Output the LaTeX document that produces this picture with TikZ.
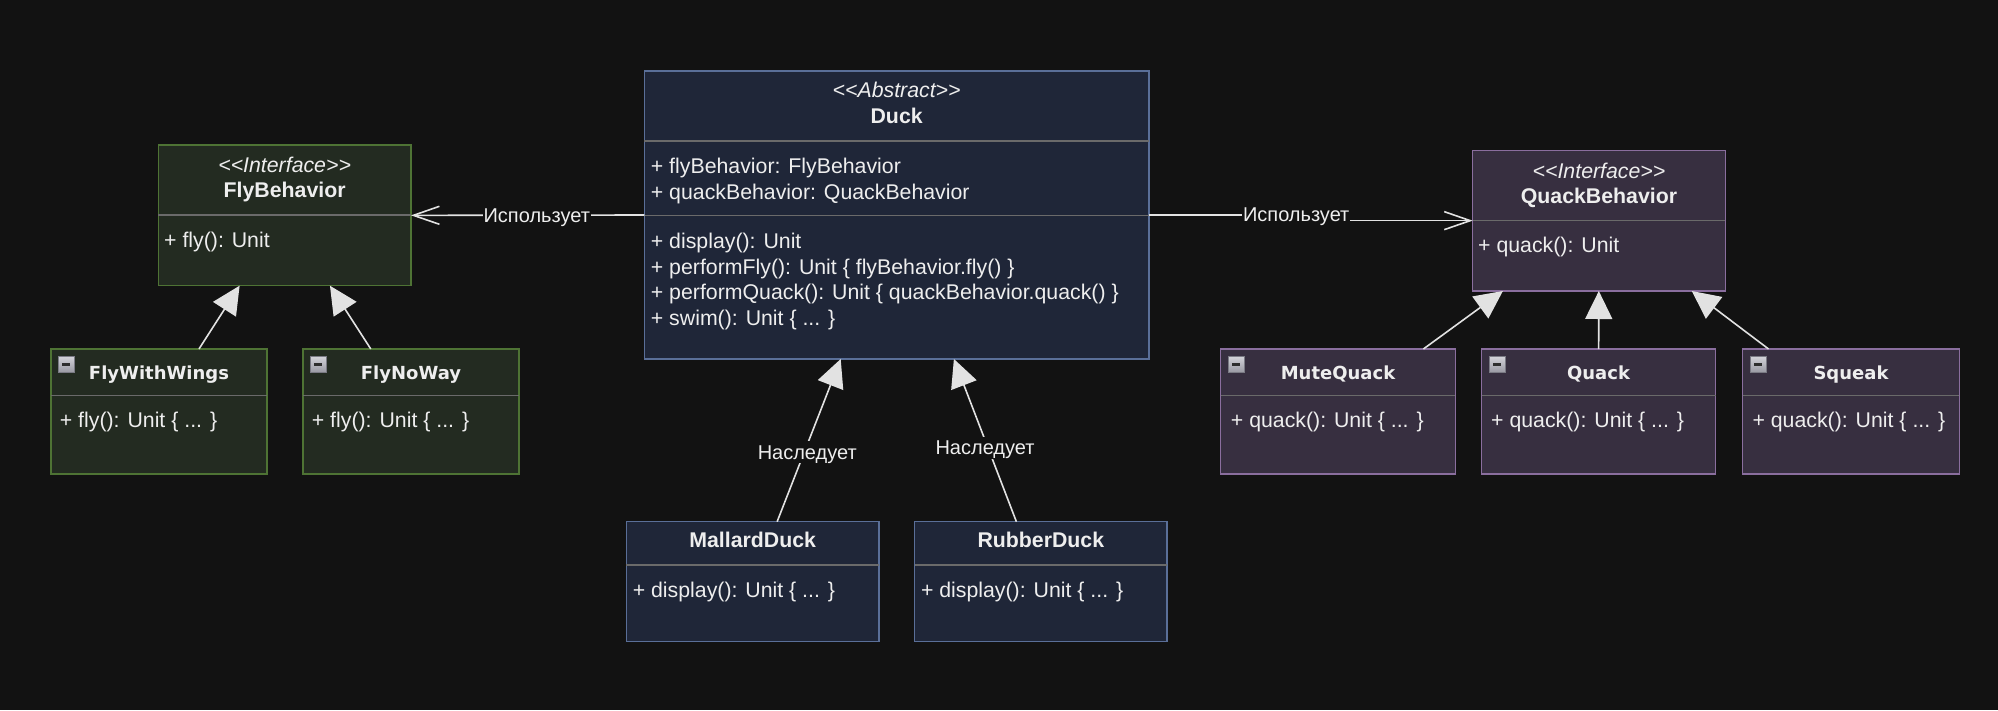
\documentclass[tikz,border=0pt]{standalone}
\usepackage{fontspec}
\newfontfamily\lsans{Liberation Sans}
\newfontfamily\dvs{DejaVu Sans}
\usetikzlibrary{arrows.meta}
\definecolor{bg}{HTML}{121212}
\definecolor{txtc}{HTML}{EEEEEE}
\definecolor{edgec}{HTML}{E2E2E2}
\definecolor{sepc}{HTML}{6A6A6A}
\definecolor{flyfill}{HTML}{232B21}
\definecolor{flydraw}{HTML}{4E7334}
\definecolor{duckfill}{HTML}{1F2638}
\definecolor{duckdraw}{HTML}{5A6F98}
\definecolor{qfill}{HTML}{372F40}
\definecolor{qdraw}{HTML}{8A6E9E}
\definecolor{icont}{HTML}{D4D4DA}
\definecolor{iconbot}{HTML}{9A9AA4}
\definecolor{iconb}{HTML}{7A7A84}
\definecolor{icond}{HTML}{2E2E2E}
\newcommand\mkicon[2]{%
  \draw[draw=iconb, line width=0.8pt, top color=icont, bottom color=iconbot] (#1,#2) rectangle ++(16,16);
  \fill[icond] (#1+4,#2+6.5) rectangle ++(8,3);}
\begin{document}
\begin{tikzpicture}[x=1pt,y=-1pt,
  box/.style={draw, line width=1.5pt, inner sep=0pt, outer sep=0pt, rectangle},
  flybox/.style={box, fill=flyfill, draw=flydraw},
  duckbox/.style={box, fill=duckfill, draw=duckdraw},
  qbox/.style={box, fill=qfill, draw=qdraw},
  sep/.style={draw=sepc, line width=1.5pt},
  mt/.style={anchor=west, inner sep=0pt, text=txtc, font=\lsans\fontsize{21.3}{25.6}\selectfont, text height=15.25pt, text depth=0pt},
  tt/.style={anchor=center, inner sep=0pt, text=txtc, font=\lsans\bfseries\fontsize{21.3}{25.6}\selectfont, text height=15.25pt, text depth=0pt},
  st/.style={anchor=center, inner sep=0pt, text=txtc, font=\lsans\itshape\fontsize{21.3}{25.6}\selectfont, text height=15.25pt, text depth=0pt},
  sub/.style={anchor=center, inner sep=0pt, text=txtc, font=\dvs\bfseries\fontsize{18}{22}\selectfont, text height=13.1pt, text depth=0pt},
  lbl/.style={fill=bg, text=txtc, inner xsep=1pt, inner ysep=4pt, font=\lsans\fontsize{20}{24}\selectfont, text height=14.3pt, text depth=0pt},
  inh/.style={draw=edgec, line width=1.6pt, -{Triangle[length=28pt,width=27pt,fill=edgec]}},
  uses/.style={draw=edgec, line width=1.6pt, -{Straight Barb[length=26pt,width=18pt]}}
]
\fill[bg] (0,0) rectangle (1998,710);
\useasboundingbox (0,0) rectangle (1998,710);

% ---------- boxes ----------
\node[flybox, minimum width=252.7pt, minimum height=140.7pt] (fb) at (284.65,215.35) {};
\node[flybox, minimum width=216pt, minimum height=125pt] (fww) at (159,411.5) {};
\node[flybox, minimum width=216pt, minimum height=125pt] (fnw) at (411,411.5) {};
\node[duckbox, minimum width=504.7pt, minimum height=288pt] (duck) at (896.65,215) {};
\node[duckbox, minimum width=252.5pt, minimum height=120pt] (mallard) at (752.65,581.7) {};
\node[duckbox, minimum width=252.5pt, minimum height=120pt] (rubber) at (1040.85,581.7) {};
\node[qbox, minimum width=252.6pt, minimum height=140.7pt] (qb) at (1599,220.65) {};
\node[qbox, minimum width=234.6pt, minimum height=125pt] (mq) at (1338,411.5) {};
\node[qbox, minimum width=234pt, minimum height=125pt] (qk) at (1598.5,411.5) {};
\node[qbox, minimum width=216.6pt, minimum height=125pt] (sq) at (1851,411.5) {};

% ---------- separators ----------
\draw[sep] (fb.west |- 0,215) -- (fb.east |- 0,215);
\draw[sep] (fww.west |- 0,395.5) -- (fww.east |- 0,395.5);
\draw[sep] (fnw.west |- 0,395.5) -- (fnw.east |- 0,395.5);
\draw[sep] (duck.west |- 0,141) -- (duck.east |- 0,141);
\draw[sep] (duck.west |- 0,215.7) -- (duck.east |- 0,215.7);
\draw[sep] (mallard.west |- 0,565) -- (mallard.east |- 0,565);
\draw[sep] (rubber.west |- 0,565) -- (rubber.east |- 0,565);
\draw[sep] (qb.west |- 0,220.3) -- (qb.east |- 0,220.3);
\draw[sep] (mq.west |- 0,395.5) -- (mq.east |- 0,395.5);
\draw[sep] (qk.west |- 0,395.5) -- (qk.east |- 0,395.5);
\draw[sep] (sq.west |- 0,395.5) -- (sq.east |- 0,395.5);

% ---------- icons ----------
\mkicon{58}{356}
\mkicon{310}{356}
\mkicon{1228}{356}
\mkicon{1489}{356}
\mkicon{1750}{356}

% ---------- texts ----------
\node[st] (fbst) at (284.65,165) {<<Interface>>};
\node[tt] (fbt) at (284.65,190) {FlyBehavior};
\node[mt] (fbm) at (164,239.5) {+ fly(): Unit};

\node[sub] (fwwt) at (159,372.5) {FlyWithWings};
\node[mt] (fwwm) at (59.7,419.5) {+ fly(): Unit \{ ... \}};
\node[sub] (fnwt) at (411,372.5) {FlyNoWay};
\node[mt] (fnwm) at (311.7,419.5) {+ fly(): Unit \{ ... \}};

\node[st] (dst) at (896.65,90) {<<Abstract>>};
\node[tt] (dt) at (896.65,116.2) {Duck};
\node[mt] (da1) at (650.7,166.2) {+ flyBehavior: FlyBehavior};
\node[mt] (da2) at (650.7,191.8) {+ quackBehavior: QuackBehavior};
\node[mt] (dm1) at (650.7,240.8) {+ display(): Unit};
\node[mt] (dm2) at (650.7,266.4) {+ performFly(): Unit \{ flyBehavior.fly() \}};
\node[mt] (dm3) at (650.7,292) {+ performQuack(): Unit \{ quackBehavior.quack() \}};
\node[mt] (dm4) at (650.7,317.6) {+ swim(): Unit \{ ... \}};

\node[tt] (mdt) at (752.65,540) {MallardDuck};
\node[mt] (mdm) at (632.6,589.8) {+ display(): Unit \{ ... \}};
\node[tt] (rdt) at (1040.85,540) {RubberDuck};
\node[mt] (rdm) at (920.8,589.8) {+ display(): Unit \{ ... \}};

\node[st] (qbst) at (1599,170.8) {<<Interface>>};
\node[tt] (qbt) at (1599,195.8) {QuackBehavior};
\node[mt] (qbm) at (1478,245) {+ quack(): Unit};

\node[sub] (mqt) at (1338,372.5) {MuteQuack};
\node[mt] (mqm) at (1230.7,420) {+ quack(): Unit \{ ... \}};
\node[sub] (qkt) at (1598.5,372.5) {Quack};
\node[mt] (qkm) at (1491,420) {+ quack(): Unit \{ ... \}};
\node[sub] (sqt) at (1851,372.5) {Squeak};
\node[mt] (sqm) at (1752.3,420) {+ quack(): Unit \{ ... \}};

% ---------- connectors ----------
\draw[inh] (fww) -- (fb);
\draw[inh] (fnw) -- (fb);
\draw[inh] (mq) -- (qb);
\draw[inh] (qk) -- (qb);
\draw[inh] (sq) -- (qb);

\draw[inh] ([xshift=24.45pt]mallard.north) -- node[lbl, pos=0.427, xshift=3pt] (l3) {Наследует} ([xshift=-55.95pt]duck.south);
\draw[inh] ([xshift=-24.45pt]rubber.north) -- node[lbl, pos=0.454, xshift=-3pt] (l4) {Наследует} ([xshift=57.25pt]duck.south);

\draw[uses] (duck.west) -- node[lbl, pos=0.461] (l1) {Использует} (fb.east);
\draw[uses] (duck.east) -- ++(147.4,0) |- (qb.west);
\node[lbl] (l2) at (1296.2,214.5) {Использует};
\end{tikzpicture}
\end{document}
